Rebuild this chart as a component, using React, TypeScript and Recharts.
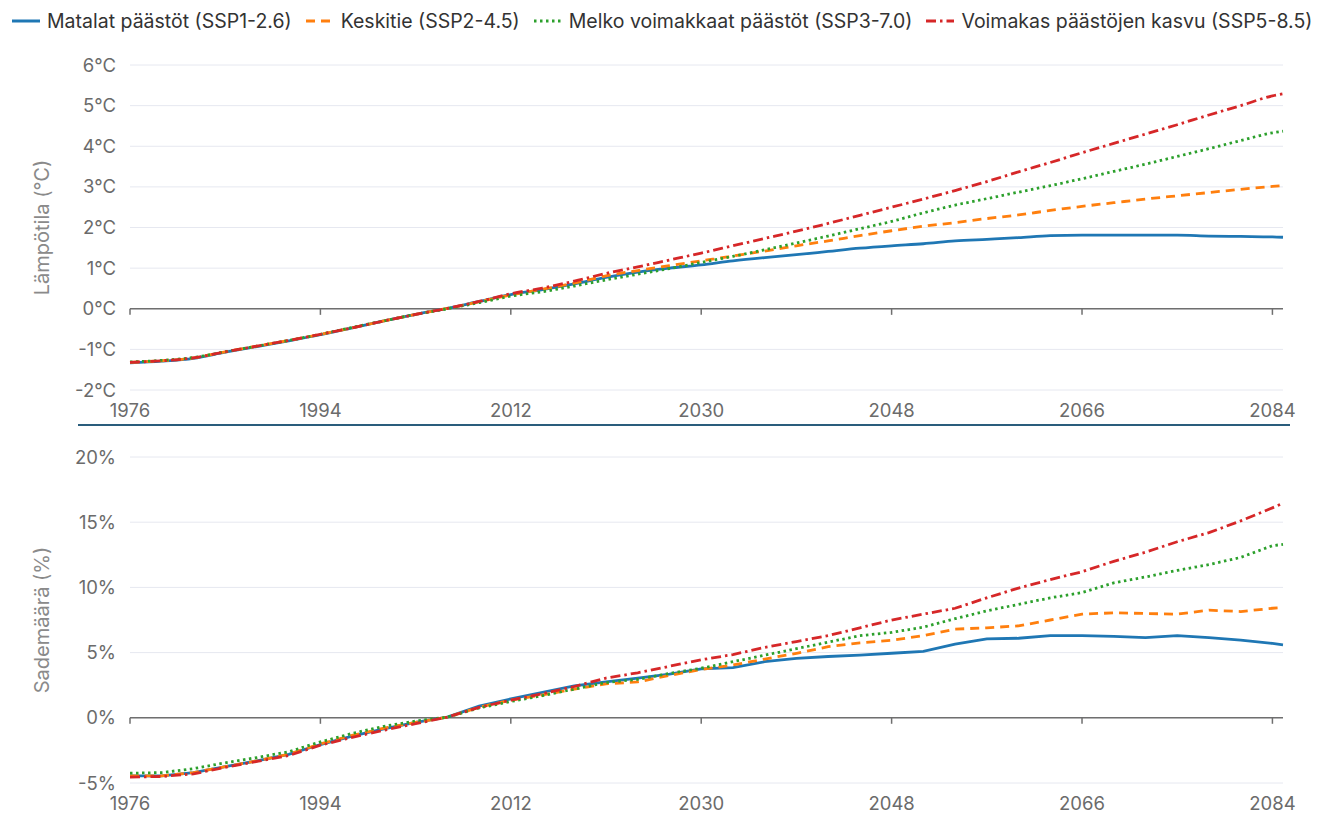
import { LineChart, Line, XAxis, YAxis, CartesianGrid, ReferenceLine } from "recharts";

// years of the smoothed series (3-year step, last point at the right edge)
const YEARS = [
  1976, 1979, 1982, 1985, 1988, 1991, 1994, 1997, 2000, 2003, 2006, 2009, 2012,
  2015, 2018, 2021, 2024, 2027, 2030, 2033, 2036, 2039, 2042, 2045, 2048, 2051,
  2054, 2057, 2060, 2063, 2066, 2069, 2072, 2075, 2078, 2081, 2084, 2085,
];

// temperature change, °C
const TEMP_SSP126 = [
  -1.33, -1.29, -1.22, -1.07, -0.93, -0.79, -0.64, -0.47, -0.3, -0.14, 0.01, 0.18, 0.35,
  0.47, 0.61, 0.77, 0.9, 1.0, 1.08, 1.18, 1.26, 1.33, 1.41, 1.49, 1.55, 1.6,
  1.67, 1.71, 1.75, 1.8, 1.81, 1.81, 1.81, 1.81, 1.79, 1.78, 1.77, 1.76,
];
const TEMP_SSP245 = [
  -1.32, -1.28, -1.21, -1.06, -0.92, -0.78, -0.63, -0.47, -0.3, -0.14, 0.01, 0.17, 0.34,
  0.48, 0.63, 0.81, 0.94, 1.06, 1.18, 1.3, 1.42, 1.55, 1.67, 1.8, 1.92, 2.03,
  2.12, 2.22, 2.31, 2.42, 2.52, 2.61, 2.7, 2.78, 2.86, 2.94, 3.01, 3.03,
];
const TEMP_SSP370 = [
  -1.31, -1.27, -1.2, -1.06, -0.92, -0.78, -0.63, -0.46, -0.3, -0.14, 0.0, 0.15, 0.31,
  0.42, 0.56, 0.71, 0.85, 0.99, 1.14, 1.29, 1.45, 1.62, 1.79, 1.97, 2.15, 2.36,
  2.55, 2.71, 2.87, 3.03, 3.2, 3.38, 3.56, 3.75, 3.94, 4.14, 4.33, 4.37,
];
const TEMP_SSP585 = [
  -1.32, -1.28, -1.21, -1.06, -0.92, -0.78, -0.63, -0.47, -0.3, -0.14, 0.01, 0.18, 0.37,
  0.51, 0.68, 0.87, 1.03, 1.2, 1.37, 1.55, 1.73, 1.91, 2.1, 2.3, 2.5, 2.7,
  2.91, 3.13, 3.37, 3.6, 3.84, 4.07, 4.3, 4.53, 4.77, 5.0, 5.24, 5.29,
];

// precipitation change, %
const PREC_SSP126 = [
  -4.45, -4.45, -4.2, -3.75, -3.3, -2.8, -2.05, -1.4, -0.85, -0.35, 0.05, 0.9, 1.45,
  1.95, 2.45, 2.75, 3.05, 3.35, 3.75, 3.85, 4.3, 4.55, 4.7, 4.8, 4.95, 5.1,
  5.65, 6.05, 6.1, 6.3, 6.3, 6.25, 6.15, 6.3, 6.15, 5.95, 5.7, 5.6,
];
const PREC_SSP245 = [
  -4.45, -4.45, -4.2, -3.75, -3.3, -2.8, -2.0, -1.35, -0.8, -0.35, 0.05, 0.8, 1.35,
  1.75, 2.2, 2.6, 2.75, 3.25, 3.7, 4.05, 4.5, 4.95, 5.45, 5.75, 5.95, 6.3,
  6.8, 6.9, 7.05, 7.5, 7.95, 8.05, 8.0, 7.95, 8.25, 8.15, 8.4, 8.45,
];
const PREC_SSP370 = [
  -4.25, -4.2, -3.9, -3.45, -3.05, -2.6, -1.85, -1.2, -0.65, -0.25, 0.05, 0.75, 1.25,
  1.7, 2.2, 2.7, 2.95, 3.4, 3.8, 4.3, 4.8, 5.3, 5.8, 6.3, 6.55, 6.95,
  7.6, 8.2, 8.7, 9.2, 9.6, 10.35, 10.8, 11.3, 11.75, 12.3, 13.2, 13.3,
];
const PREC_SSP585 = [
  -4.55, -4.5, -4.3, -3.8, -3.35, -2.9, -2.1, -1.5, -0.95, -0.45, 0.05, 0.8, 1.35,
  1.85, 2.4, 3.05, 3.45, 3.95, 4.45, 4.85, 5.4, 5.85, 6.3, 6.9, 7.5, 7.95,
  8.4, 9.2, 9.95, 10.6, 11.2, 12.0, 12.7, 13.5, 14.2, 15.1, 16.1, 16.45,
];

const X_TICKS = [1976, 1994, 2012, 2030, 2048, 2066, 2084];
const TEMP_TICKS = [-2, -1, 0, 1, 2, 3, 4, 5, 6];
const PREC_TICKS = [-5, 0, 5, 10, 15, 20];

const SCENARIOS = [
  { key: "ssp126", label: "Matalat päästöt (SSP1-2.6)", color: "#1f77b4", dash: undefined as string | undefined },
  { key: "ssp245", label: "Keskitie (SSP2-4.5)", color: "#ff7f0e", dash: "9 6" },
  { key: "ssp370", label: "Melko voimakkaat päästöt (SSP3-7.0)", color: "#2ca02c", dash: "2.5 3.5" },
  { key: "ssp585", label: "Voimakas päästöjen kasvu (SSP5-8.5)", color: "#d62728", dash: "10 4 2.5 4" },
];

const FONT = "Inter, 'Noto Sans', sans-serif";
const AXIS_GRAY = "#6f6f6f";

function buildRows(series: number[][]) {
  return YEARS.map((year, i) => ({
    year,
    ssp126: series[0][i],
    ssp245: series[1][i],
    ssp370: series[2][i],
    ssp585: series[3][i],
  }));
}

const tempRows = buildRows([TEMP_SSP126, TEMP_SSP245, TEMP_SSP370, TEMP_SSP585]);
const precRows = buildRows([PREC_SSP126, PREC_SSP245, PREC_SSP370, PREC_SSP585]);

function axisTitle(text: string) {
  return (props: any) => {
    const vb = props.viewBox || {};
    const cy = vb.y + vb.height / 2;
    return (
      <text
        x={42}
        y={cy}
        transform={`rotate(-90 42 ${cy})`}
        textAnchor="middle"
        dominantBaseline="central"
        fill="#8a8a8a"
        fontSize={20}
        fontFamily={FONT}
      >
        {text}
      </text>
    );
  };
}

type PanelProps = {
  data: ReturnType<typeof buildRows>;
  ticks: number[];
  unit: string;
  title: string;
  tickLen: number;
  marginTop: number;
  xHeight: number;
  top: number;
  curve: "monotone" | "linear";
};

function Panel({ data, ticks, unit, title, tickLen, marginTop, xHeight, top, curve }: PanelProps) {
  const tickStyle = { fill: "#6b6b6b", fontSize: 18.5, fontFamily: FONT };
  return (
    <div style={{ position: "absolute", left: 0, top }}>
      <LineChart width={1321} height={383} data={data} margin={{ top: marginTop, right: 38, bottom: 0, left: 0 }}>
        <CartesianGrid vertical={false} stroke="#e6e8f0" />
        <XAxis
          type="number"
          dataKey="year"
          domain={[1976, 2085]}
          ticks={X_TICKS}
          axisLine={false}
          tickLine={false}
          tickMargin={8}
          height={xHeight}
          tick={tickStyle}
          interval={0}
        />
        <YAxis
          type="number"
          domain={[ticks[0], ticks[ticks.length - 1]]}
          ticks={ticks}
          width={130}
          axisLine={false}
          tickLine={false}
          tickMargin={8}
          tick={tickStyle}
          interval={0}
          tickFormatter={(v) => `${v}${unit}`}
          label={axisTitle(title)}
        />
        <ReferenceLine y={0} stroke={AXIS_GRAY} strokeWidth={1.5} />
        {X_TICKS.map((t) => (
          <ReferenceLine
            key={t}
            segment={[{ x: t, y: 0 }, { x: t, y: -tickLen }]}
            stroke={AXIS_GRAY}
            strokeWidth={1.5}
          />
        ))}
        {SCENARIOS.map((s) => (
          <Line
            key={s.key}
            dataKey={s.key}
            type={curve}
            stroke={s.color}
            strokeWidth={2.8}
            strokeDasharray={s.dash}
            dot={false}
            activeDot={false}
            isAnimationActive={false}
          />
        ))}
      </LineChart>
    </div>
  );
}

function LegendRow() {
  return (
    <div
      style={{
        position: "absolute",
        left: 12,
        top: 9,
        display: "flex",
        alignItems: "center",
        gap: 14,
        fontFamily: FONT,
        fontSize: 19.5,
        color: "#333",
        whiteSpace: "nowrap",
      }}
    >
      {SCENARIOS.map((s) => (
        <div key={s.key} style={{ display: "flex", alignItems: "center" }}>
          <svg width={28} height={10} style={{ marginRight: 7 }}>
            <line x1={0} y1={5} x2={28} y2={5} stroke={s.color} strokeWidth={3} strokeDasharray={s.dash} />
          </svg>
          <span>{s.label}</span>
        </div>
      ))}
    </div>
  );
}

export default function App() {
  return (
    <div style={{ position: "absolute", left: 0, top: 0, width: 1321, height: 813, background: "#fff" }}>
      <LegendRow />
      <Panel
        data={tempRows}
        ticks={TEMP_TICKS}
        unit="°C"
        title="Lämpötila (°C)"
        tickLen={0.15}
        marginTop={25}
        xHeight={33}
        top={40}
        curve="monotone"
      />
      <div style={{ position: "absolute", left: 78, top: 424, width: 1212, height: 2, background: "#2a5d7c" }} />
      <Panel
        data={precRows}
        ticks={PREC_TICKS}
        unit="%"
        title="Sademäärä (%)"
        tickLen={0.46}
        marginTop={27}
        xHeight={30}
        top={430}
        curve="linear"
      />
    </div>
  );
}
